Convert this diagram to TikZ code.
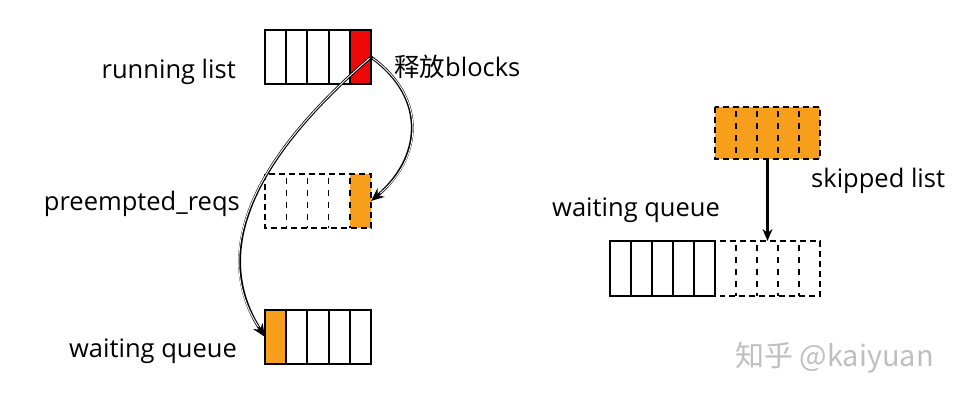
\documentclass[tikz,border=0pt]{standalone}
\usepackage{fontspec}
\setmainfont{Open Sans}
\newfontfamily\cjk{Noto Sans CJK SC}
\usetikzlibrary{arrows.meta}
\definecolor{qorange}{RGB}{247,158,27}
\definecolor{qred}{RGB}{238,8,8}
\begin{document}
\begin{tikzpicture}[x=1pt,y=-1pt,
  cell/.style={rectangle, minimum width=21.2pt, minimum height=54pt, inner sep=0pt, outer sep=0pt},
  box/.style={line width=2pt},
  dbox/.style={line width=1.9pt, dash pattern=on 6pt off 4pt},
  ddiv/.style={line width=1.4pt, dash pattern=on 6pt off 6pt},
  lbl/.style={font=\fontsize{25.5}{30}\selectfont, inner sep=0pt},
  conn/.style={line width=2.8pt, -{Stealth[length=13pt,width=11pt]}},
  connin/.style={white, line width=0.9pt, shorten >=12pt, shorten <=2pt},
  vconn/.style={line width=2.2pt, -{Stealth[length=12pt,width=10pt]}}
]
\useasboundingbox (0,0) rectangle (962,401);

% running list
\foreach \i in {1,...,5} \node[cell] (r\i) at ({265+21.2*(\i-0.5)},57) {};
\fill[qred] (r5.north west) rectangle (r5.south east);
\draw[box] (r1.north west) rectangle (r5.south east);
\foreach \i in {1,...,4} \draw[box] (r\i.north east) -- (r\i.south east);

% preempted_reqs
\foreach \i in {1,...,5} \node[cell] (p\i) at ({265+21.2*(\i-0.5)},201) {};
\fill[qorange] (p5.north west) rectangle (p5.south east);
\draw[dbox] (p1.north west) rectangle (p5.south east);
\foreach \i in {1,...,4} \draw[ddiv] ([yshift=-4pt]p\i.north east) -- (p\i.south east);

% waiting queue (left)
\foreach \i in {1,...,5} \node[cell] (w\i) at ({265+21.2*(\i-0.5)},337) {};
\fill[qorange] (w1.north west) rectangle (w1.south east);
\draw[box] (w1.north west) rectangle (w5.south east);
\foreach \i in {1,...,4} \draw[box] (w\i.north east) -- (w\i.south east);

% skipped list
\foreach \i in {1,...,5} \node[cell, minimum height=52pt] (s\i) at ({715+21*(\i-0.5)},133) {};
\fill[qorange] (s1.north west) rectangle (s5.south east);
\draw[dbox] (s1.north west) rectangle (s5.south east);
\foreach \i in {1,...,4} \draw[ddiv] ([yshift=-4pt]s\i.north east) -- (s\i.south east);

% waiting queue (right)
\foreach \i in {1,...,10} \node[cell, minimum width=21pt, minimum height=55pt] (q\i) at ({610+21*(\i-0.5)},268.5) {};
\draw[box] (q1.north west) rectangle (q5.south east);
\foreach \i in {1,...,4} \draw[box] (q\i.north east) -- (q\i.south east);
\draw[dbox] ([xshift=5pt]q6.north west) -- (q10.north east) -- (q10.south east) -- ([xshift=5pt]q6.south west);
\foreach \i in {6,...,9} \draw[ddiv] ([yshift=-4pt]q\i.north east) -- (q\i.south east);

% labels
\node[lbl, anchor=base east] (l1) at (236,79) {running list};
\node[lbl, anchor=base west] (l2) at (394,77) {{\cjk 释放}blocks};
\node[lbl, anchor=base east] (l3) at (240,211) {preempted\_reqs};
\node[lbl, anchor=base east] (l4) at (237,357) {waiting queue};
\node[lbl, anchor=base west] (l5) at (552,216) {waiting queue};
\node[lbl, anchor=base west] (l6) at (811,188) {skipped list};
\node[lbl, anchor=base west, text=black!25, font=\cjk\fontsize{29}{34}\selectfont] (wm) at (735,366) {知乎 @kaiyuan};

% connectors
\draw[conn] (r5.east) .. controls (240,170) and (215,260) .. (w1.west);
\draw[connin] (r5.east) .. controls (240,170) and (215,260) .. (w1.west);
\draw[conn] (r5.east) .. controls (430,100) and (420,160) .. (p5.east);
\draw[connin] (r5.east) .. controls (430,100) and (420,160) .. (p5.east);
\draw[vconn] (s3.south) -- (q8.north);
\end{tikzpicture}
\end{document}
